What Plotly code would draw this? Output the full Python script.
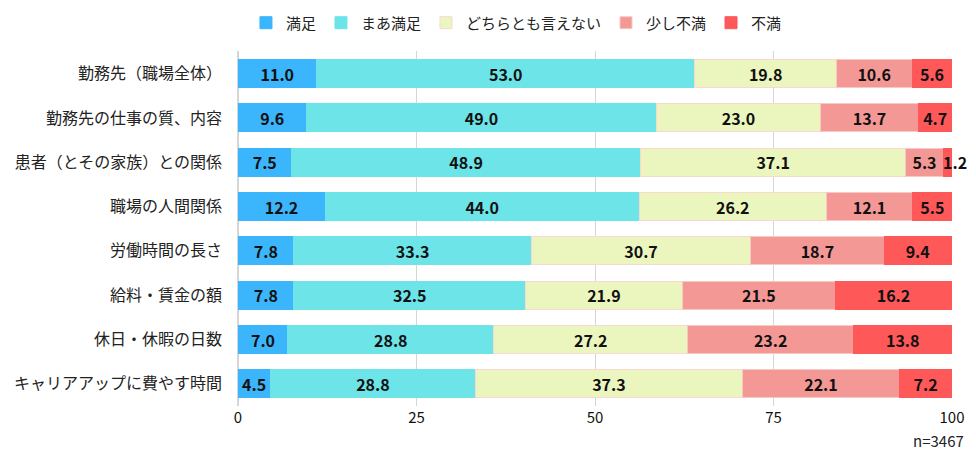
import plotly.graph_objects as go

categories = ["勤務先（職場全体）", "勤務先の仕事の質、内容", "患者（とその家族）との関係", "職場の人間関係",
              "労働時間の長さ", "給料・賃金の額", "休日・休暇の日数", "キャリアアップに費やす時間"]
series_names = ["満足", "まあ満足", "どちらとも言えない", "少し不満", "不満"]
satisfied = [11.0, 9.6, 7.5, 12.2, 7.8, 7.8, 7.0, 4.5]
somewhat_satisfied = [53.0, 49.0, 48.9, 44.0, 33.3, 32.5, 28.8, 28.8]
neutral = [19.8, 23.0, 37.1, 26.2, 30.7, 21.9, 27.2, 37.3]
somewhat_dissatisfied = [10.6, 13.7, 5.3, 12.1, 18.7, 21.5, 23.2, 22.1]
dissatisfied = [5.6, 4.7, 1.2, 5.5, 9.4, 16.2, 13.8, 7.2]
x_ticks = [0, 25, 50, 75, 100]
note = "n=3467"

colors = ["#3bb5fb", "#6ce4e8", "#ebf6bf", "#f49896", "#fe5859"]
lines = ["#3bb5fb", "#6ce4e8", "#f8d8d0", "#f8c8c4", "#fe5859"]
values = [satisfied, somewhat_satisfied, neutral, somewhat_dissatisfied, dissatisfied]
FONT = "Noto Sans CJK JP"
LBL = dict(family=FONT, size=16, color="#111111", weight="bold")

fig = go.Figure()
for name, vals, c, lc in zip(series_names, values, colors, lines):
    fig.add_trace(go.Bar(
        y=categories, x=vals, name=name, orientation="h",
        marker=dict(color=c, line=dict(color=lc, width=1)),
        text=[f"{v:.1f}" if v >= 3 else "" for v in vals], textposition="inside",
        insidetextanchor="middle", textangle=0,
        textfont=LBL, hoverinfo="skip",
    ))

# small segments: label placed at the bar end
for i, cat in enumerate(categories):
    total = sum(v[i] for v in values)
    if dissatisfied[i] < 3:
        fig.add_annotation(x=total, y=cat, text=f"{dissatisfied[i]:.1f}", showarrow=False,
                           xanchor="center", xshift=3, font=LBL)

fig.update_layout(
    barmode="stack", bargap=0.37,
    width=976, height=459,
    margin=dict(l=238, r=24, t=50, b=53),
    paper_bgcolor="white", plot_bgcolor="white",
    font=dict(family=FONT, size=16, color="#222222"),
    uniformtext=dict(minsize=16, mode="show"),
    legend=dict(orientation="h", x=0.39, xanchor="center", y=0.95, yanchor="middle",
                yref="container", font=dict(size=15), traceorder="normal",
                itemwidth=30),
    xaxis=dict(range=[0, 100], tickvals=x_ticks, showgrid=True, gridcolor="#d6d6d6",
               gridwidth=1, zeroline=True, zerolinecolor="#d6d6d6", showline=False,
               tickfont=dict(size=15, color="#111111"), ticks="", ticklabelstandoff=1),
    yaxis=dict(categoryorder="array", categoryarray=categories, autorange="reversed",
               showgrid=False, ticks="", tickfont=dict(size=16, color="#222222"),
               ticklabelstandoff=15),
)
fig.add_annotation(text=note, xref="paper", yref="paper", x=1.02, y=-0.098,
                   xanchor="right", yanchor="middle", showarrow=False,
                   font=dict(size=15, color="#222222"))

fig.write_html("out.html")
